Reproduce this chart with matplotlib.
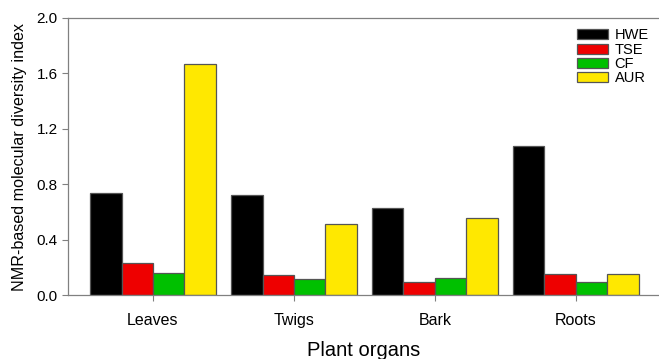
import numpy as np
import matplotlib
matplotlib.use("Agg")
import matplotlib.pyplot as plt

plt.rcParams['font.family'] = ['Liberation Sans', 'DejaVu Sans']

organs = ['Leaves', 'Twigs', 'Bark', 'Roots']
fractions = ['HWE', 'TSE', 'CF', 'AUR']
hwe = [0.736, 0.72, 0.63, 1.078]
tse = [0.233, 0.142, 0.096, 0.154]
cf = [0.157, 0.115, 0.12, 0.096]
aur = [1.668, 0.515, 0.558, 0.15]
colors = ['#000000', '#ee0000', '#00c000', '#ffe800']

fig = plt.figure(figsize=(6.59, 3.59), dpi=100)
ax = fig.add_axes([0.1032, 0.178, 0.8968, 0.772])

x = np.arange(len(organs))
w = 0.223
for i, (vals, lab) in enumerate(zip([hwe, tse, cf, aur], fractions)):
    ax.bar(x + (i - 1.5) * w, vals, w, color=colors[i], edgecolor='#555555',
           linewidth=0.9, label=lab)

ax.set_xlim(-0.603, 3.59)
ax.set_ylim(0, 2.0)
ax.set_yticks([0.0, 0.4, 0.8, 1.2, 1.6, 2.0])
ax.set_yticklabels(['0.0', '0.4', '0.8', '1.2', '1.6', '2.0'])
ax.set_xticks(x)
ax.set_xticklabels(organs)
ax.tick_params(axis='both', color='#808080', length=4, width=0.8)
ax.tick_params(axis='y', labelsize=11)
ax.tick_params(axis='x', labelsize=11.5, pad=9)
for s in ['left', 'bottom', 'top']:
    ax.spines[s].set_color('#808080')
    ax.spines[s].set_linewidth(0.9)
ax.spines['right'].set_visible(False)

ax.set_ylabel('NMR-based molecular diversity index', fontsize=11.6, labelpad=7)
ax.set_xlabel('Plant organs', fontsize=14.5, labelpad=9)

ax.legend(loc='upper left', bbox_to_anchor=(0.862, 0.962), frameon=False,
          fontsize=10.5, handlelength=2.1, handleheight=0.7, labelspacing=0.02,
          handletextpad=0.45, borderaxespad=0, borderpad=0)

fig.savefig('out.png', dpi=100)
